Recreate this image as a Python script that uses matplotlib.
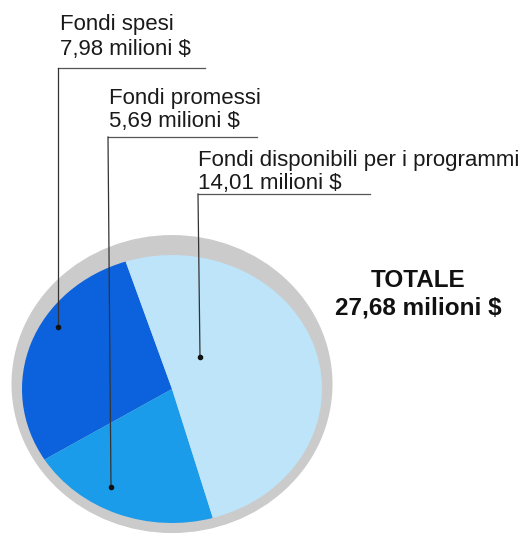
import matplotlib.pyplot as plt
from matplotlib.patches import Ellipse

# data
categories = ["Fondi spesi", "Fondi promessi", "Fondi disponibili per i programmi"]
values = [7.98, 5.69, 14.01]
value_labels = ["7,98 milioni $", "5,69 milioni $", "14,01 milioni $"]
total_label = "27,68 milioni $"
colors = ["#0b62dc", "#1a9cea", "#bde4f8"]

plt.rcParams['font.family'] = ['Liberation Sans', 'DejaVu Sans']

W, H = 526, 536
fig = plt.figure(figsize=(W / 100, H / 100), dpi=100)
fig.patch.set_facecolor('white')

# pie axes (slightly elliptical, as in the original)
px0, px1, py0, py1 = 22, 322, 255, 523
pax = fig.add_axes([px0 / W, 1 - py1 / H, (px1 - px0) / W, (py1 - py0) / H])
pax.axis('off')
# gray rim behind the pie
pax.add_patch(Ellipse((0, 0.037), 2 * 1.07, 2 * 1.112, facecolor='#cbcbcb',
                      edgecolor='none', clip_on=False, zorder=0))
wedges, _ = pax.pie(values, colors=colors, startangle=108, counterclock=True,
                    radius=1, wedgeprops=dict(linewidth=0), frame=False)
for w in wedges:
    w.set_zorder(1)
    w.set_clip_on(False)
pax.set_xlim(-1, 1)
pax.set_ylim(-1, 1)
pax.set_aspect('auto')

# overlay in pixel coordinates for labels and leader lines
ax = fig.add_axes([0, 0, 1, 1])
ax.set_xlim(0, W)
ax.set_ylim(H, 0)
ax.axis('off')
ax.patch.set_alpha(0)

label_x = [60, 109, 198]
name_y = [30, 104, 166]
value_y = [55, 127, 189]
hline_y = [68, 137, 194]
hline_x = [(58, 205), (108, 257), (198, 370)]
dot_xy = [(58, 327), (111, 487), (200, 357)]

fs = 16
for i in range(3):
    ax.text(label_x[i], name_y[i], categories[i], fontsize=fs, color='#1a1a1a',
            va='baseline', ha='left')
    ax.text(label_x[i], value_y[i], value_labels[i], fontsize=fs, color='#1a1a1a',
            va='baseline', ha='left')
    x0, x1 = hline_x[i]
    ax.plot([x0, x1], [hline_y[i], hline_y[i]], color='#555555', lw=0.9)
    ax.plot([x0, dot_xy[i][0]], [hline_y[i], dot_xy[i][1]], color='#333333', lw=0.9)
    ax.plot(*dot_xy[i], 'o', color='#111111', ms=3)

ax.text(418, 287, "TOTALE", fontsize=17.5, fontweight='bold', color='#111111',
        ha='center', va='baseline')
ax.text(418, 315, total_label, fontsize=17.5, fontweight='bold', color='#111111',
        ha='center', va='baseline')

fig.savefig('out.png', dpi=100)
